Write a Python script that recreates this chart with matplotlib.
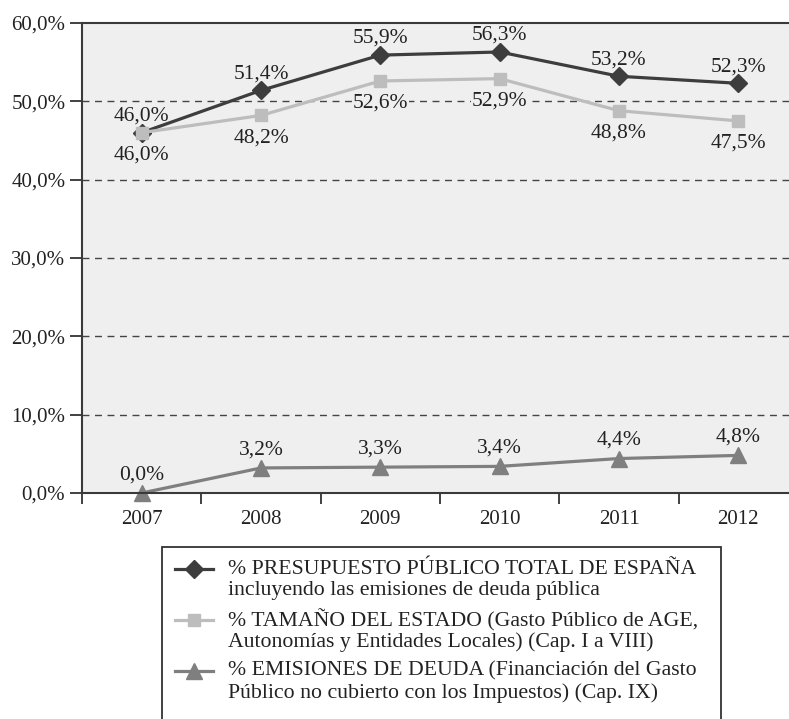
import matplotlib
matplotlib.use("Agg")
import matplotlib.pyplot as plt
from matplotlib.lines import Line2D
from matplotlib.patches import Rectangle

years = ["2007", "2008", "2009", "2010", "2011", "2012"]
presupuesto_total = [46.0, 51.4, 55.9, 56.3, 53.2, 52.3]
tamano_estado = [46.0, 48.2, 52.6, 52.9, 48.8, 47.5]
emisiones_deuda = [0.0, 3.2, 3.3, 3.4, 4.4, 4.8]
y_ticks = [0, 10, 20, 30, 40, 50, 60]

legend_labels = [
    ["% PRESUPUESTO PÚBLICO TOTAL DE ESPAÑA",
     "incluyendo las emisiones de deuda pública"],
    ["% TAMAÑO DEL ESTADO (Gasto Público de AGE,",
     "Autonomías y Entidades Locales) (Cap. I a VIII)"],
    ["% EMISIONES DE DEUDA (Financiación del Gasto",
     "Público no cubierto con los Impuestos) (Cap. IX)"],
]

FONT = "Liberation Serif"
TXT = "#222222"
BG = "#efefef"
W, H = 789, 719


def pct(v):
    return f"{v:.1f}%".replace(".", ",")


fig = plt.figure(figsize=(W / 100, H / 100), dpi=100)

# axes box in pixels (left, top, right, bottom) measured from the top-left
ax_l, ax_t, ax_r, ax_b = 82, 23, 798, 493
ax = fig.add_axes([ax_l / W, 1 - ax_b / H, (ax_r - ax_l) / W, (ax_b - ax_t) / H])
ax.set_facecolor(BG)

x = list(range(len(years)))

styles = [
    (presupuesto_total, "#3d3d3d", "D", 9.5),
    (tamano_estado, "#bdbdbd", "s", 9),
    (emisiones_deuda, "#7f7f7f", "^", 11),
]
for vals, col, mk, ms in styles:
    ax.plot(x, vals, color=col, lw=2.3, marker=mk, markersize=ms,
            markeredgecolor=col, markerfacecolor=col, zorder=3, clip_on=False)

# value labels, with a background patch that hides the grid behind them
lbl = dict(textcoords="offset points", ha="center", va="center", fontsize=15.5,
           family=FONT, color=TXT, zorder=2,
           bbox=dict(boxstyle="square,pad=0.03", fc=BG, ec="none"))
for i, v in enumerate(presupuesto_total):
    ax.annotate(pct(v), (i, v), xytext=(0, 12), **lbl)
for i, v in enumerate(tamano_estado):
    ax.annotate(pct(v), (i, v), xytext=(0, -16), **lbl)
for i, v in enumerate(emisiones_deuda):
    ax.annotate(pct(v), (i, v), xytext=(0, 13), **lbl)

ax.set_xlim(-0.5, len(years) - 0.5)
ax.set_ylim(0, 60)

ax.set_yticks(y_ticks)
ax.set_yticklabels([pct(t) for t in y_ticks], family=FONT, fontsize=15, color=TXT)
ax.set_xticks(x)
ax.set_xticklabels(years, family=FONT, fontsize=15, color=TXT)
ax.set_xticks([i + 0.5 for i in range(-1, len(years))], minor=True)
ax.tick_params(axis="x", which="major", length=0, pad=12)
ax.tick_params(axis="x", which="minor", length=8, width=1.3, color="#333333")
ax.tick_params(axis="y", length=9, width=1.3, color="#333333", pad=3)

for yv in y_ticks[1:-1]:
    ax.axhline(yv, color="#444444", lw=1, ls=(0, (5, 4)), zorder=1)

for side in ["left", "bottom", "top", "right"]:
    ax.spines[side].set_color("#3a3a3a")
    ax.spines[side].set_linewidth(1.5)
    ax.spines[side].set_zorder(5)

# legend box drawn by hand so the marker sits on the first line of each entry
box_l, box_t, box_r = 162, 547, 721
fig.patches.append(Rectangle((box_l / W, -0.05), (box_r - box_l) / W,
                             (H - box_t) / H + 0.05, transform=fig.transFigure,
                             facecolor="white", edgecolor="#333333", lw=1.3))

entry_y = [569, 620, 671]
for (vals, col, mk, ms), lines, y0 in zip(styles, legend_labels, entry_y):
    fy = 1 - y0 / H
    fig.add_artist(Line2D([175 / W, 213 / W], [fy, fy], transform=fig.transFigure,
                          color=col, lw=2.3))
    fig.add_artist(Line2D([194 / W], [fy], transform=fig.transFigure,
                          color=col, marker=mk, markersize=ms, markerfacecolor=col,
                          markeredgecolor=col, lw=0))
    for k, line in enumerate(lines):
        fig.text(228 / W, 1 - (y0 + 22 * k) / H, line, ha="left", va="center",
                 fontsize=15.7, family=FONT, color=TXT)

fig.savefig("out.png", dpi=100, facecolor="white")
